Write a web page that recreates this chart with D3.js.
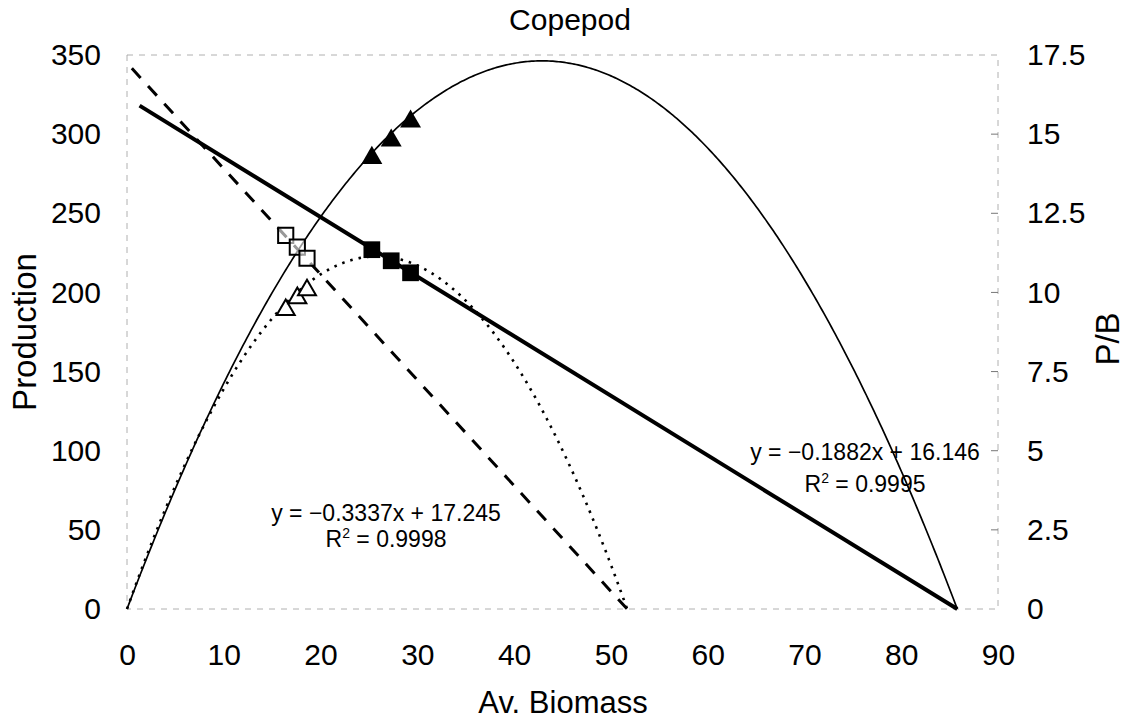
<!DOCTYPE html>
<html>
<head>
<meta charset="utf-8">
<script src="https://cdn.jsdelivr.net/npm/d3@7"></script>
<style>
  body { margin: 0; background: #fff; }
  text { font-family: "Liberation Sans", Arial, sans-serif; fill: #000; }
</style>
</head>
<body>
<div id="chart"></div>
<script>
// ticks
const xTicks = [0, 10, 20, 30, 40, 50, 60, 70, 80, 90];
const prodTicks = [0, 50, 100, 150, 200, 250, 300, 350];
const pbTicks = [0, 2.5, 5, 7.5, 10, 12.5, 15, 17.5];

const biomassFilled = [25.3, 27.3, 29.3];
const pbFilled = [11.35, 11.0, 10.62];
const prodFilled = [285, 296, 308];

const biomassOpen = [16.4, 17.6, 18.6];
const pbOpen = [11.8, 11.43, 11.08];
const prodOpen = [189, 196.5, 201.5];

// trendlines as printed on the chart: P/B = slope * B + intercept
const fitFilled = [-0.1882, 16.146];
const fitOpen = [-0.3337, 17.245];
const fitLabels = [
  ["y = \u22120.1882x + 16.146", "0.9995"],
  ["y = \u22120.3337x + 17.245", "0.9998"]
];

const width = 1128, height = 723;
const svg = d3.select("#chart").append("svg")
  .attr("width", width).attr("height", height);

const x = d3.scaleLinear().domain([0, 90]).range([127, 998]);
const yL = d3.scaleLinear().domain([0, 350]).range([609, 55]);
const yR = d3.scaleLinear().domain([0, 17.5]).range([609, 55]);

// plot frame (faint, like the scan)
svg.append("rect")
  .attr("x", x(0)).attr("y", yL(350))
  .attr("width", x(90) - x(0)).attr("height", yL(0) - yL(350))
  .attr("fill", "none").attr("stroke", "#b0b0b0")
  .attr("stroke-width", 1).attr("stroke-dasharray", "6,6");

// axes
const xAxis = svg.append("g").attr("transform", "translate(0," + yL(0) + ")")
  .call(d3.axisBottom(x).tickValues(xTicks).tickSize(0).tickPadding(35));
const lAxis = svg.append("g").attr("transform", "translate(" + x(0) + ",0)")
  .call(d3.axisLeft(yL).tickValues(prodTicks).tickSize(0).tickPadding(26));
const rAxis = svg.append("g").attr("transform", "translate(" + x(90) + ",0)")
  .call(d3.axisRight(yR).tickValues(pbTicks).tickSize(0).tickPadding(29)
    .tickFormat(d => d3.format("")(d)));

[xAxis, lAxis, rAxis].forEach(a => {
  a.select(".domain").remove();
  a.selectAll("text").style("font-size", "30px").attr("font-family", null);
});

// small inner ticks on the right axis
svg.append("g").selectAll("line").data(pbTicks.slice(1, -1)).join("line")
  .attr("x1", x(90) - 7).attr("x2", x(90))
  .attr("y1", d => yR(d)).attr("y2", d => yR(d))
  .attr("stroke", "#777").attr("stroke-width", 1);

// curves
function sample(x0, x1, f) {
  const pts = d3.range(x0, x1, 0.2).map(b => [b, f(b)]);
  pts.push([x1, f(x1)]);
  return pts;
}
const zeroFilled = -fitFilled[1] / fitFilled[0];
const zeroOpen = -fitOpen[1] / fitOpen[0];

const lineR = d3.line().x(d => x(d[0])).y(d => yR(d[1]));
const lineL = d3.line().x(d => x(d[0])).y(d => yL(d[1]));

// production parabolas (P = P/B * B)
svg.append("path")
  .datum(sample(0, zeroFilled, b => (fitFilled[0] * b + fitFilled[1]) * b))
  .attr("d", lineL).attr("fill", "none").attr("stroke", "#000").attr("stroke-width", 1.7);
svg.append("path")
  .datum(sample(0, zeroOpen, b => (fitOpen[0] * b + fitOpen[1]) * b))
  .attr("d", lineL).attr("fill", "none").attr("stroke", "#000")
  .attr("stroke-width", 2.6).attr("stroke-dasharray", "2.5,6");

// P/B linear trends
svg.append("path")
  .datum([[0.5, fitOpen[0] * 0.5 + fitOpen[1]], [zeroOpen, 0]])
  .attr("d", lineR).attr("fill", "none").attr("stroke", "#000")
  .attr("stroke-width", 3).attr("stroke-dasharray", "13,11");
svg.append("path")
  .datum([[1.3, fitFilled[0] * 1.3 + fitFilled[1]], [zeroFilled, 0]])
  .attr("d", lineR).attr("fill", "none").attr("stroke", "#000").attr("stroke-width", 4);

// markers
const tri = d3.symbol().type(d3.symbolTriangle);
const sq = d3.symbol().type(d3.symbolSquare);

svg.append("g").selectAll("path").data(d3.zip(biomassFilled, prodFilled)).join("path")
  .attr("d", tri.size(190)())
  .attr("transform", d => "translate(" + x(d[0]) + "," + yL(d[1]) + ")")
  .attr("fill", "#000");
svg.append("g").selectAll("path").data(d3.zip(biomassOpen, prodOpen)).join("path")
  .attr("d", tri.size(140)())
  .attr("transform", d => "translate(" + x(d[0]) + "," + yL(d[1]) + ")")
  .attr("fill", "#fff").attr("stroke", "#000").attr("stroke-width", 2);
svg.append("g").selectAll("path").data(d3.zip(biomassFilled, pbFilled)).join("path")
  .attr("d", sq.size(280)())
  .attr("transform", d => "translate(" + x(d[0]) + "," + yR(d[1]) + ")")
  .attr("fill", "#000");
svg.append("g").selectAll("path").data(d3.zip(biomassOpen, pbOpen)).join("path")
  .attr("d", sq.size(230)())
  .attr("transform", d => "translate(" + x(d[0]) + "," + yR(d[1]) + ")")
  .attr("fill", "#fff").attr("fill-opacity", 0.6).attr("stroke", "#000").attr("stroke-width", 2);

// trend equations
const eqPos = [[865, 460, 492], [386, 521, 547]];
fitLabels.forEach((lab, i) => {
  const g = svg.append("g").style("font-size", "23px").attr("text-anchor", "middle");
  g.append("text").attr("x", eqPos[i][0]).attr("y", eqPos[i][1]).text(lab[0]);
  const r = g.append("text").attr("x", eqPos[i][0]).attr("y", eqPos[i][2]);
  r.append("tspan").text("R");
  r.append("tspan").attr("dy", -9).style("font-size", "14px").text("2");
  r.append("tspan").attr("dy", 9).text(" = " + lab[1]);
});

// titles
svg.append("text").attr("x", 570).attr("y", 30).attr("text-anchor", "middle")
  .style("font-size", "30px").text("Copepod");
svg.append("text").attr("x", 563).attr("y", 713).attr("text-anchor", "middle")
  .style("font-size", "31px").text("Av. Biomass");
svg.append("text").attr("transform", "translate(36,332) rotate(-90)")
  .attr("text-anchor", "middle").style("font-size", "33px").text("Production");
svg.append("text").attr("transform", "translate(1119,339) rotate(-90)")
  .attr("text-anchor", "middle").style("font-size", "33px").text("P/B");
</script>
</body>
</html>
